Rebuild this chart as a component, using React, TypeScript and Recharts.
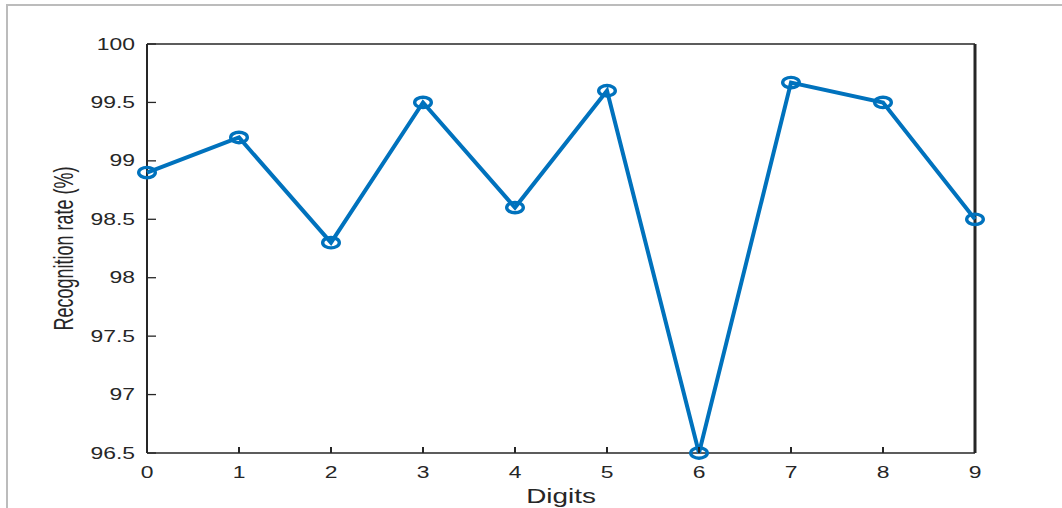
import React from "react";
import { LineChart, Line, XAxis, YAxis, ReferenceLine } from "recharts";

const digits = [0, 1, 2, 3, 4, 5, 6, 7, 8, 9];
const rates = [98.9, 99.2, 98.3, 99.5, 98.6, 99.6, 96.5, 99.67, 99.5, 98.5];
const yTicks = [96.5, 97, 97.5, 98, 98.5, 99, 99.5, 100];
const xTicks = digits;
const xDomain = [0, 9];
const yDomain = [96.5, 100];

const data = digits.map((d, i) => ({ digit: d, rate: rates[i] }));

const AX = "#262626";
const FONT = "'Liberation Sans', Arial, Helvetica, sans-serif";
const BLUE = "#0072BD";

const LeftTick = (p: any) => {
  const { x, y, payload } = p;
  return (
    <g>
      <line x1={x} y1={y} x2={x + 9} y2={y} stroke={AX} strokeWidth={1.3} />
      <text
        transform={`translate(${x - 12},${y + 5.6}) scale(1.45,1)`}
        textAnchor="end"
        fontSize={15.8}
        fontFamily={FONT}
        fill={AX}
      >
        {String(payload.value)}
      </text>
    </g>
  );
};

const RightTick = (p: any) => {
  const { x, y } = p;
  return <line x1={x} y1={y} x2={x - 9} y2={y} stroke={AX} strokeWidth={1.3} />;
};

const BottomTick = (p: any) => {
  const { x, y, payload } = p;
  return (
    <g>
      <line x1={x} y1={y} x2={x} y2={y - 6} stroke={AX} strokeWidth={2} />
      <text
        transform={`translate(${x},${y + 24.5}) scale(1.45,1)`}
        textAnchor="middle"
        fontSize={15.8}
        fontFamily={FONT}
        fill={AX}
      >
        {String(payload.value)}
      </text>
    </g>
  );
};

const TopTick = (p: any) => {
  const { x, y } = p;
  return <line x1={x} y1={y} x2={x} y2={y + 6} stroke={AX} strokeWidth={2} />;
};

const Marker = (p: any) => {
  const { cx, cy } = p;
  if (cx == null || cy == null) return null;
  return <ellipse cx={cx} cy={cy} rx={8.3} ry={5.2} fill="none" stroke={BLUE} strokeWidth={3.4} />;
};

const YLabel = (p: any) => {
  const vb = p.viewBox || {};
  const cy = (vb.y ?? 44) + (vb.height ?? 409) / 2;
  return (
    <text
      transform={`translate(63,${cy}) rotate(-90) scale(1,1.55)`}
      textAnchor="middle"
      dominantBaseline="central"
      fontSize={18}
      fontFamily={FONT}
      fill={AX}
    >
      Recognition rate (%)
    </text>
  );
};

const XLabel = (p: any) => {
  const vb = p.viewBox || {};
  const cx = (vb.x ?? 147) + (vb.width ?? 828) / 2;
  return (
    <text
      transform={`translate(${cx},503) scale(1.43,1)`}
      textAnchor="middle"
      fontSize={19.5}
      fontFamily={FONT}
      fill={AX}
    >
      Digits
    </text>
  );
};

export default function App() {
  return (
    <div style={{ position: "fixed", left: 0, top: 0, width: 1062, height: 508, background: "#fff" }}>
      <div
        style={{
          position: "absolute",
          left: 6,
          top: 4,
          width: 1100,
          height: 600,
          borderTop: "2px solid #bcbcbc",
          borderLeft: "2px solid #bcbcbc",
        }}
      />
      <div style={{ position: "absolute", left: 0, top: 0 }}>
        <LineChart width={1062} height={508} data={data} margin={{ top: 44, right: 0, bottom: 0, left: 0 }}>
          <XAxis
            xAxisId="bottom"
            dataKey="digit"
            type="number"
            domain={xDomain}
            ticks={xTicks}
            height={55}
            tickSize={0}
            tickMargin={0}
            tickLine={false}
            axisLine={false}
            tick={<BottomTick />}
            label={<XLabel />}
            interval={0}
          />
          <XAxis
            xAxisId="top"
            orientation="top"
            dataKey="digit"
            type="number"
            domain={xDomain}
            ticks={xTicks}
            height={0}
            tickSize={0}
            tickMargin={0}
            tickLine={false}
            axisLine={false}
            tick={<TopTick />}
            interval={0}
          />
          <YAxis
            yAxisId="left"
            type="number"
            domain={yDomain}
            ticks={yTicks}
            width={147}
            tickSize={0}
            tickMargin={0}
            tickLine={false}
            axisLine={false}
            tick={<LeftTick />}
            label={<YLabel />}
            interval={0}
          />
          <YAxis
            yAxisId="right"
            orientation="right"
            type="number"
            domain={yDomain}
            ticks={yTicks}
            width={87}
            tickSize={0}
            tickMargin={0}
            tickLine={false}
            axisLine={false}
            tick={<RightTick />}
            interval={0}
          />
          <ReferenceLine xAxisId="bottom" yAxisId="left" y={yDomain[1]} stroke={AX} strokeWidth={1.4} ifOverflow="visible" />
          <ReferenceLine xAxisId="bottom" yAxisId="left" y={yDomain[0]} stroke={AX} strokeWidth={1.5} ifOverflow="visible" />
          <ReferenceLine xAxisId="bottom" yAxisId="left" x={xDomain[0]} stroke={AX} strokeWidth={2} ifOverflow="visible" />
          <ReferenceLine xAxisId="bottom" yAxisId="left" x={xDomain[1]} stroke={AX} strokeWidth={3} ifOverflow="visible" />
          <Line
            xAxisId="bottom"
            yAxisId="left"
            dataKey="rate"
            stroke={BLUE}
            strokeWidth={4}
            dot={<Marker />}
            activeDot={false}
            isAnimationActive={false}
          />
        </LineChart>
      </div>
    </div>
  );
}
